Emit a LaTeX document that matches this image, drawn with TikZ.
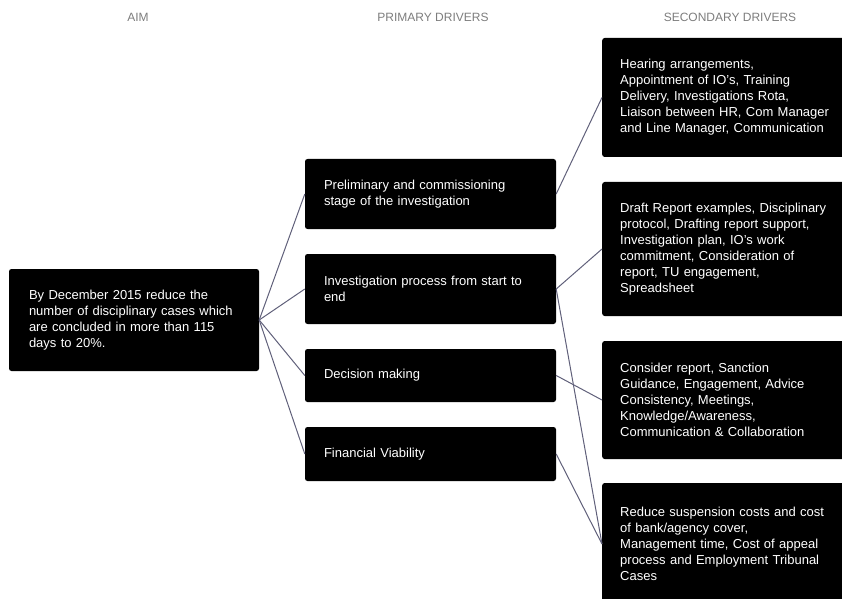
\documentclass[tikz,border=0pt]{standalone}
\usepackage{fontspec}
\setmainfont{Liberation Sans}
\usepackage{tikz}
\usetikzlibrary{arrows.meta}
\usetikzlibrary{calc}
\definecolor{linegray}{RGB}{96,96,122}
\definecolor{headgray}{RGB}{125,125,125}

\begin{document}
\begin{tikzpicture}[x=1pt, y=1pt,
        head_style/.style={text=headgray,font=\fontsize{12}{14}\selectfont},
        box_style/.style={rectangle,fill=black,rounded corners=2.5pt,text=white,align=left,inner ysep=0pt,font=\fontsize{13}{16}\selectfont},
        aim_style/.style={box_style,inner xsep=20pt,text width=210pt,minimum height=102pt},
        primary_style/.style={box_style,inner xsep=19pt,text width=213pt,minimum height=#1},
        secondary_style/.style={box_style,inner xsep=18pt,text width=240pt,minimum height=#1},
        edge_style/.style={draw=linegray, line width=1pt,-}]
        \clip (0,0) rectangle (842,598);

        \node [head_style](h1) at (138,581) {AIM};
        \node [head_style](h2) at (433,581) {PRIMARY DRIVERS};
        \node [head_style](h3) at (730,581) {SECONDARY DRIVERS};

        \node [aim_style](aim) at (134,278) {By December 2015 reduce the\\number of disciplinary cases which\\are concluded in more than 115\\days to 20\%.};

        \node [primary_style=70pt](p1) at (430.5,404) {Preliminary and commissioning\\stage of the investigation};
        \node [primary_style=70pt](p2) at (430.5,309) {Investigation process from start to\\end};
        \node [primary_style=53pt](p3) at (430.5,222.5) {Decision making};
        \node [primary_style=54pt](p4) at (430.5,144) {Financial Viability};

        \node [secondary_style=119pt, anchor=west](s1) at (602,500.5) {Hearing arrangements,\\Appointment of IO’s, Training\\Delivery, Investigations Rota,\\Liaison between HR, Com Manager\\and Line Manager, Communication};
        \node [secondary_style=134pt, anchor=west](s2) at (602,349) {Draft Report examples, Disciplinary\\protocol, Drafting report support,\\Investigation plan, IO’s work\\commitment, Consideration of\\report, TU engagement,\\Spreadsheet};
        \node [secondary_style=118pt, anchor=west](s3) at (602,198) {Consider report, Sanction\\Guidance, Engagement, Advice\\Consistency, Meetings,\\Knowledge/Awareness,\\Communication \& Collaboration};
        \node [secondary_style=122pt, anchor=west](s4) at (602,54) {Reduce suspension costs and cost\\of bank/agency cover,\\Management time, Cost of appeal\\process and Employment Tribunal\\Cases};

        \draw [edge_style] (aim.east) edge (p1.west);
        \draw [edge_style] (aim.east) edge (p2.west);
        \draw [edge_style] (aim.east) edge (p3.west);
        \draw [edge_style] (aim.east) edge (p4.west);
        \draw [edge_style] (p1.east) edge (s1.west);
        \draw [edge_style] (p2.east) edge (s2.west);
        \draw [edge_style] (p2.east) edge (s4.west);
        \draw [edge_style] (p3.east) edge (s3.west);
        \draw [edge_style] (p4.east) edge (s4.west);
        \end{tikzpicture}
\end{document}
